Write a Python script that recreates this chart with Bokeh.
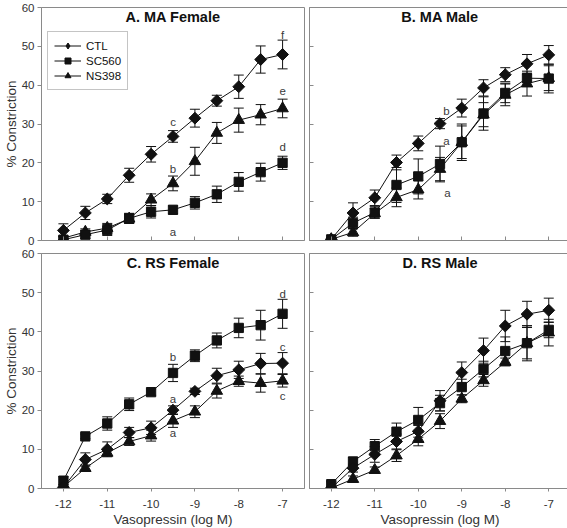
import math
from bokeh.plotting import figure
from bokeh.models import (ColumnDataSource, Range1d, FixedTicker, Whisker, TeeHead,
                          Label, Legend, LegendItem)
from bokeh.layouts import column, row
from bokeh.embed import file_html
from bokeh.resources import INLINE
from bokeh.core.properties import value

# ---------------- data ----------------
dose = [-12, -11.5, -11, -10.5, -10, -9.5, -9, -8.5, -8, -7.5, -7]
x_ticks = [-12, -11, -10, -9, -8, -7]
x_tick_labels = ["-12", "-11", "-10", "-9", "-8", "-7"]
y_ticks = [0, 10, 20, 30, 40, 50, 60]
series_names = ["CTL", "SC560", "NS398"]

# A. MA Female
a_ctl = [2.6, 7.1, 10.7, 16.8, 22.2, 26.8, 31.5, 36.0, 39.6, 46.6, 47.9]
a_ctl_err = [1.7, 1.7, 1.2, 1.8, 2.0, 1.5, 2.3, 1.4, 3.0, 3.5, 3.7]
a_sc = [0.2, 1.5, 2.7, 5.7, 7.4, 7.9, 9.7, 11.9, 15.1, 17.6, 20.0]
a_sc_err = [0.8, 1.0, 1.4, 1.3, 1.6, 1.0, 1.6, 2.1, 2.4, 2.3, 1.7]
a_ns = [0.6, 2.2, 3.2, 5.6, 10.5, 14.7, 20.4, 27.7, 31.0, 32.4, 34.0]
a_ns_err = [0.5, 0.8, 1.2, 1.2, 1.5, 1.9, 3.6, 2.7, 3.1, 2.6, 2.4]
a_note_text = ["c", "b", "a", "f", "e", "d"]
a_note_x = [-9.5, -9.5, -9.5, -7, -7, -7]
a_note_y = [30.5, 18.5, 2.2, 53.0, 38.5, 24.0]

# B. MA Male
b_ctl = [0.3, 7.1, 11.0, 20.1, 25.0, 30.1, 34.1, 39.3, 42.7, 45.5, 47.8]
b_ctl_err = [0.5, 2.6, 2.0, 1.9, 1.9, 1.3, 2.3, 2.1, 1.8, 2.4, 2.4]
b_sc = [0.3, 4.5, 7.2, 14.3, 16.5, 19.7, 25.3, 32.7, 38.0, 41.8, 41.7]
b_sc_err = [0.5, 1.5, 1.5, 4.5, 4.5, 4.6, 4.2, 4.3, 2.5, 1.0, 3.7]
b_ns = [0.3, 2.1, 7.0, 11.1, 13.1, 18.4, 25.3, 32.4, 37.5, 40.4, 41.8]
b_ns_err = [0.3, 1.0, 1.2, 2.4, 2.4, 3.0, 4.7, 3.1, 2.8, 3.2, 3.2]
b_note_text = ["b", "a", "a"]
b_note_x = [-9.35, -9.35, -9.33]
b_note_y = [33.3, 25.6, 12.3]

# C. RS Female
c_ctl = [0.3, 7.4, 10.0, 14.3, 15.5, 20.0, 24.8, 28.8, 30.3, 31.9, 32.0]
c_ctl_err = [0.3, 1.7, 1.9, 1.3, 1.7, 1.1, 0.8, 1.9, 2.2, 2.6, 2.7]
c_sc = [2.0, 13.3, 16.6, 21.5, 24.6, 29.5, 33.9, 37.8, 41.0, 41.7, 44.6]
c_sc_err = [1.0, 0.6, 1.7, 1.6, 0.8, 2.2, 1.5, 1.9, 2.5, 3.8, 3.7]
c_ns = [0.4, 5.2, 9.1, 12.0, 13.5, 17.3, 19.6, 24.9, 27.4, 26.9, 27.5]
c_ns_err = [0.3, 0.8, 0.8, 1.0, 1.4, 1.7, 1.5, 1.8, 1.3, 2.3, 1.6]
c_note_text = ["b", "a", "a", "d", "c", "c"]
c_note_x = [-9.5, -9.5, -9.5, -7, -7, -7]
c_note_y = [33.5, 22.8, 14.1, 49.6, 36.2, 23.6]

# D. RS Male
d_ctl = [0.1, 5.2, 8.7, 12.0, 14.6, 22.4, 29.6, 35.2, 41.5, 44.5, 45.5]
d_ctl_err = [0.4, 1.0, 2.0, 1.9, 1.5, 2.6, 2.7, 3.2, 4.0, 3.3, 3.1]
d_sc = [1.1, 6.9, 10.8, 14.5, 17.5, 21.8, 25.9, 30.5, 35.1, 37.1, 40.5]
d_sc_err = [0.6, 1.0, 1.7, 2.2, 3.2, 2.0, 2.0, 2.0, 3.6, 4.5, 2.0]
d_ns = [0.1, 2.4, 4.7, 8.4, 12.6, 17.2, 22.9, 27.6, 32.3, 37.1, 39.8]
d_ns_err = [0.3, 0.8, 0.8, 1.5, 1.7, 1.9, 1.0, 1.5, 1.0, 4.0, 3.4]

titles = ["A. MA Female", "B. MA Male", "C. RS Female", "D. RS Male"]
x_label = "Vasopressin (log M)"
y_label = "% Constriction"

# ---------------- styling ----------------
FONT = "Liberation Sans"
INK = "#111111"
FRAME = "#8a8a8a"
TXT = "#333333"


def style_axes(p, show_x_labels, show_y_labels):
    for ax in p.xaxis:
        ax.ticker = FixedTicker(ticks=x_ticks)
        ax.axis_line_color = FRAME
        ax.major_tick_line_color = FRAME
        ax.minor_tick_line_color = None
        ax.major_label_text_font = FONT
        if show_x_labels:
            ax.major_label_overrides = dict(zip(x_ticks, x_tick_labels))
            ax.major_label_text_color = TXT
            ax.major_tick_in = 0
            ax.major_tick_out = 3
            ax.major_label_standoff = 8
            ax.major_label_text_font_size = "11.5px"
            ax.axis_label = x_label
            ax.axis_label_text_font = FONT
            ax.axis_label_text_font_style = "normal"
            ax.axis_label_text_font_size = "13.5px"
            ax.axis_label_text_color = TXT
            ax.axis_label_standoff = 1
        else:
            ax.major_tick_in = 4
            ax.major_tick_out = 0
            ax.major_label_standoff = 0
            ax.major_label_text_font_size = "0px"
            ax.major_label_text_color = None
    for ax in p.yaxis:
        ax.ticker = FixedTicker(ticks=y_ticks)
        ax.axis_line_color = FRAME
        ax.major_tick_line_color = FRAME
        ax.minor_tick_line_color = None
        ax.major_label_text_font = FONT
        if show_y_labels:
            ax.major_label_text_color = TXT
            ax.major_tick_in = 0
            ax.major_tick_out = 4
            ax.major_label_standoff = 3
            ax.major_label_text_font_size = "11.5px"
            ax.axis_label = y_label
            ax.axis_label_text_font = FONT
            ax.axis_label_text_font_style = "normal"
            ax.axis_label_text_font_size = "13.5px"
            ax.axis_label_text_color = TXT
            ax.axis_label_standoff = 0
        else:
            ax.major_tick_in = 4
            ax.major_tick_out = 0
            ax.major_label_standoff = 0
            ax.major_label_text_font_size = "0px"
            ax.major_label_text_color = None


def add_series(p, vals, errs, marker, size, angle=0.0, legend_marker=None):
    lo = [v - e for v, e in zip(vals, errs)]
    hi = [v + e for v, e in zip(vals, errs)]
    src = ColumnDataSource(dict(x=dose, y=vals, lo=lo, hi=hi))
    w = Whisker(base="x", lower="lo", upper="hi", source=src,
                line_color=INK, line_width=1,
                upper_head=TeeHead(size=10, line_color=INK, line_width=1),
                lower_head=TeeHead(size=10, line_color=INK, line_width=1))
    p.add_layout(w)
    ln = p.line("x", "y", source=src, line_color=INK, line_width=1)
    sc = p.scatter("x", "y", source=src, marker=marker, size=size, angle=angle,
                   fill_color=INK, line_color=INK)
    leg = [ln, sc]
    if legend_marker is not None:
        # hidden twin used only for the legend swatch
        lg = p.scatter("x", "y", source=src, marker=legend_marker, size=size,
                       fill_color=INK, line_color=INK, visible=False)
        leg = [ln, lg]
    return leg


def make_panel(title, data, notes, fw, fh, bl, br, bt, bb, show_x, show_y, legend=False):
    p = figure(frame_width=fw, frame_height=fh, output_backend="svg", toolbar_location=None,
               x_range=Range1d(-12.5, -6.5), y_range=Range1d(0, 60),
               min_border_left=bl, min_border_right=br, min_border_top=bt, min_border_bottom=bb)
    p.xgrid.visible = False
    p.ygrid.visible = False
    p.outline_line_color = FRAME
    p.outline_line_width = 1
    p.background_fill_color = "white"
    p.border_fill_color = "white"
    style_axes(p, show_x, show_y)

    ctl, ctl_err, sc, sc_err, ns, ns_err = data
    r_ns = add_series(p, ns, ns_err, "triangle", 11.5)
    r_sc = add_series(p, sc, sc_err, "square", 9.3)
    r_ctl = add_series(p, ctl, ctl_err, "square", 8.4, math.pi / 4,
                       legend_marker="diamond" if legend else None)

    p.add_layout(Label(x=-9.5, y=57.6, text=title, text_align="center", text_baseline="middle",
                       text_font=FONT, text_font_style="bold", text_font_size="14.5px",
                       text_color=INK))

    nt, nx, ny = notes
    nsrc = ColumnDataSource(dict(x=nx, y=ny, t=nt))
    p.text("x", "y", text="t", source=nsrc, text_align="center", text_baseline="middle",
           text_font=value(FONT), text_font_size="11.5px", text_color="#3a3a3a")

    if legend:
        items = [LegendItem(label=series_names[0], renderers=r_ctl),
                 LegendItem(label=series_names[1], renderers=r_sc),
                 LegendItem(label=series_names[2], renderers=r_ns)]
        lg = Legend(items=items, location=(6, 150), orientation="vertical",
                    border_line_color=FRAME, border_line_width=1,
                    background_fill_color="white", background_fill_alpha=1,
                    label_text_font=FONT, label_text_font_size="11.5px", label_text_color=INK,
                    glyph_width=27, glyph_height=15, label_height=15, label_standoff=5,
                    spacing=0, padding=6, margin=0)
        p.add_layout(lg, "center")
    return p


pA = make_panel(titles[0], (a_ctl, a_ctl_err, a_sc, a_sc_err, a_ns, a_ns_err),
                (a_note_text, a_note_x, a_note_y), 263, 233, 36, 2, 7, 6, False, True, legend=True)
pB = make_panel(titles[1], (b_ctl, b_ctl_err, b_sc, b_sc_err, b_ns, b_ns_err),
                (b_note_text, b_note_x, b_note_y), 261, 233, 3, 1, 7, 6, False, False)
pC = make_panel(titles[2], (c_ctl, c_ctl_err, c_sc, c_sc_err, c_ns, c_ns_err),
                (c_note_text, c_note_x, c_note_y), 263, 235, 36, 2, 7, 39, True, True)
pD = make_panel(titles[3], (d_ctl, d_ctl_err, d_sc, d_sc_err, d_ns, d_ns_err),
                ([], [], []), 261, 235, 3, 1, 7, 39, True, False)

layout = column(row(pA, pB, spacing=0), row(pC, pD, spacing=0), spacing=0)

html = file_html(layout, INLINE, "Vasopressin constriction")
open("out.html", "w").write(html)
